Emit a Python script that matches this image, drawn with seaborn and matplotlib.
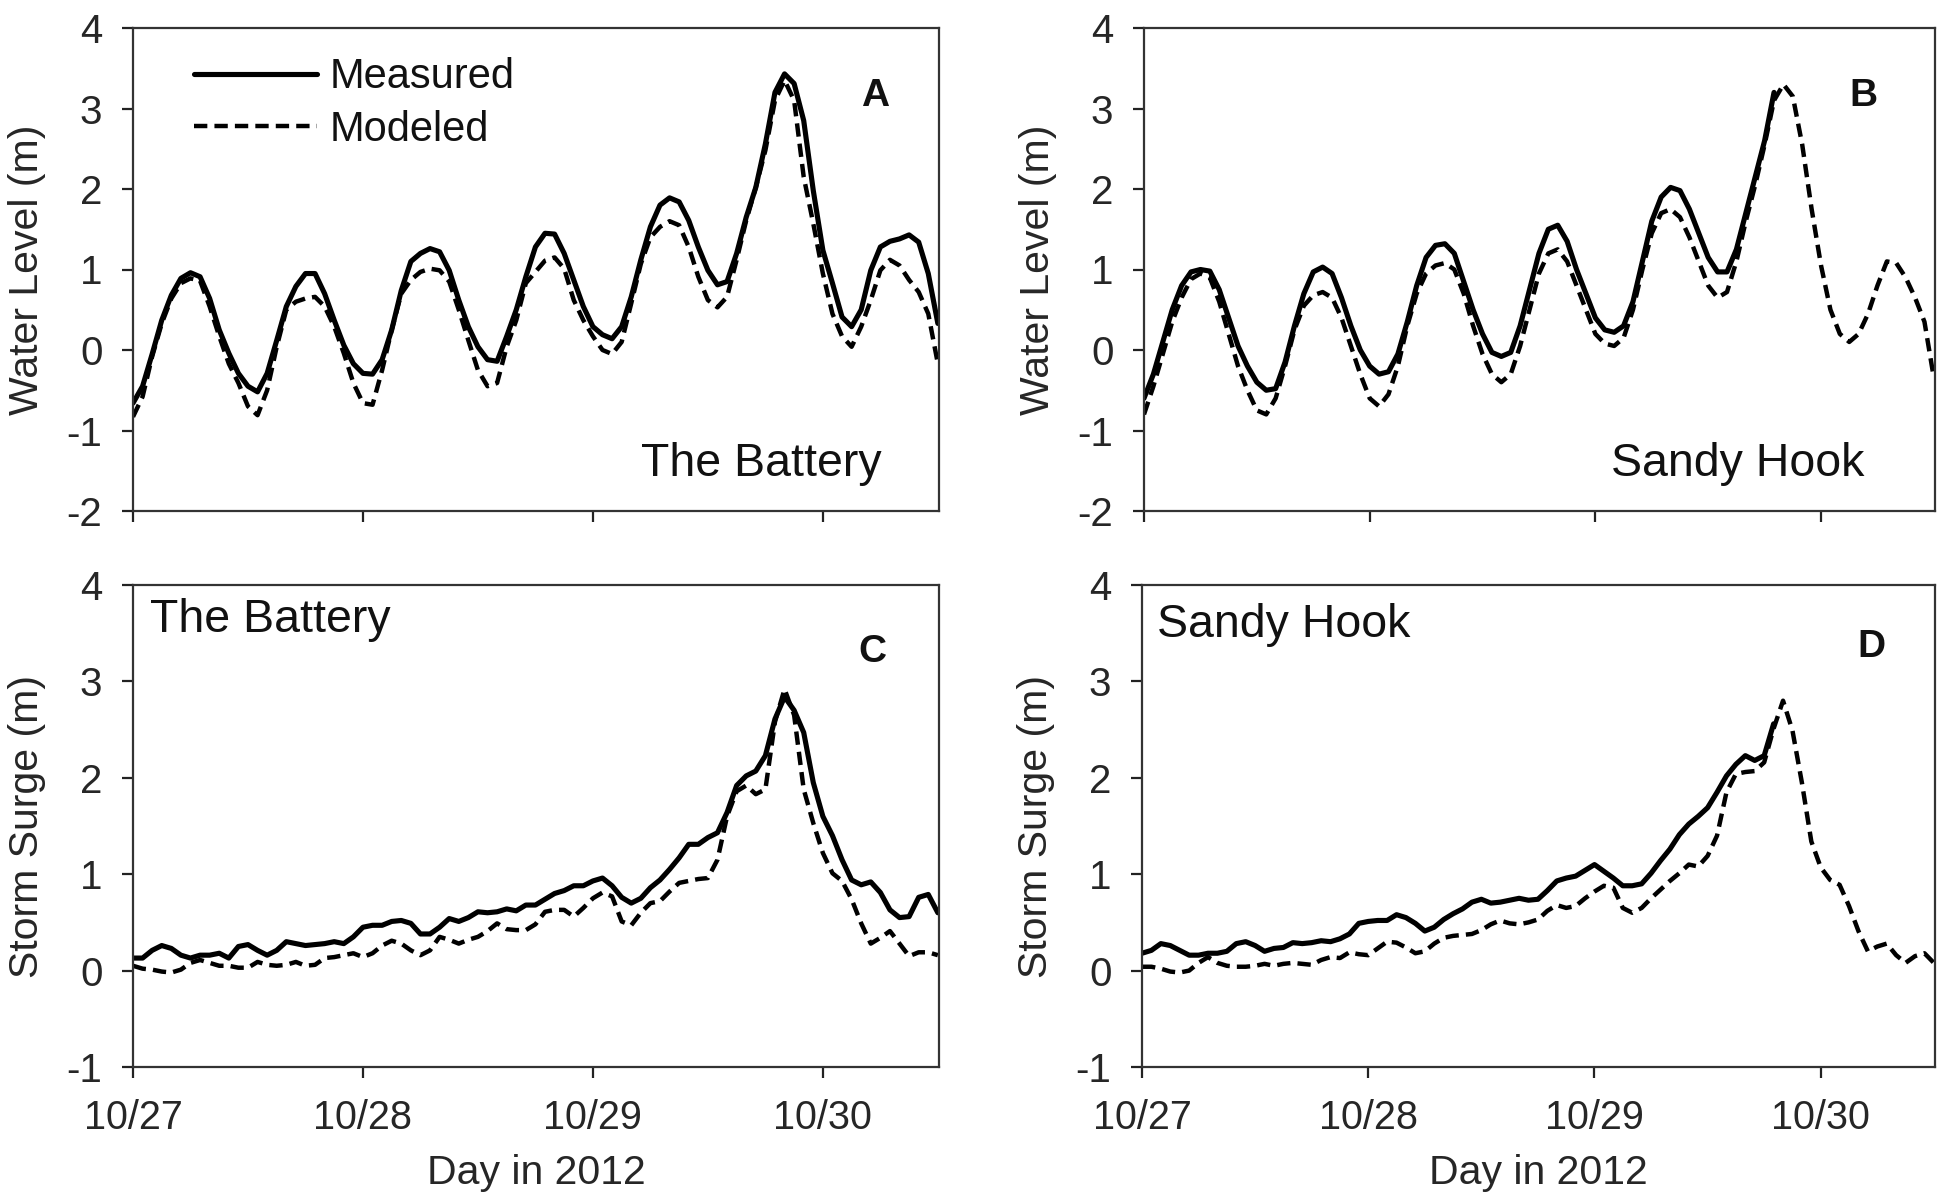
import numpy as np
import pandas as pd
import seaborn as sns
import matplotlib
matplotlib.use("Agg")
import matplotlib.pyplot as plt
from matplotlib.lines import Line2D

# hourly values, starting at 10/27 00:00
battery_level_meas = [-.66,-.45,-.05,.37,.68,.89,.96,.91,.64,.25,-.04,-.29,-.45,-.52,-.29,.12,.54,.79,.95,.95,.70,
    .37,.06,-.17,-.29,-.30,-.12,.25,.74,1.10,1.20,1.26,1.22,.99,.62,.29,.04,-.12,-.14,.17,.50,.91,1.28,
    1.45,1.44,1.20,.87,.54,.29,.19,.14,.29,.66,1.12,1.53,1.80,1.89,1.84,1.61,1.28,.99,.81,.85,1.20,1.65,
    2.02,2.56,3.20,3.43,3.31,2.85,1.98,1.24,.83,.41,.29,.50,.99,1.28,1.35,1.38,1.43,1.34,.95,.33]
battery_level_mod = [-.83,-.58,-.08,.33,.64,.83,.89,.86,.54,.17,-.17,-.41,-.70,-.81,-.50,.04,.50,.60,.64,.66,.54,
    .29,-.04,-.41,-.66,-.68,-.25,.25,.70,.87,.97,1.01,.99,.85,.50,.12,-.25,-.45,-.41,.04,.37,.83,.97,
    1.11,1.15,1.01,.62,.37,.17,0,-.05,.10,.58,1.07,1.40,1.53,1.60,1.55,1.28,.91,.62,.53,.66,1.12,1.61,
    2.02,2.48,3.10,3.35,3.10,2.15,1.57,.95,.45,.17,.04,.29,.62,.99,1.12,1.05,.87,.72,.45,-.17]
hook_level_meas = [-.6,-.3,.1,.5,.8,.97,1.0,.98,.75,.4,.05,-.2,-.4,-.5,-.48,-.15,.3,.7,.97,1.03,.95,.65,.3,0,-.2,
    -.3,-.27,-.05,.35,.8,1.15,1.3,1.32,1.2,.85,.5,.2,-.03,-.08,-.03,.3,.75,1.2,1.5,1.55,1.35,1.0,.7,.4,.25,
    .22,.3,.6,1.1,1.6,1.9,2.02,1.98,1.75,1.45,1.15,.97,.97,1.25,1.7,2.15,2.6,3.2]
hook_level_mod = [-.8,-.45,-.05,.35,.65,.88,.95,.9,.6,.2,-.2,-.5,-.75,-.8,-.6,-.2,.25,.55,.68,.72,.65,.4,.05,-.3,-.6,
    -.7,-.55,-.2,.3,.7,.95,1.05,1.08,1.0,.7,.3,-.05,-.3,-.4,-.3,.05,.5,.95,1.2,1.25,1.1,.8,.5,.2,.08,
    .05,.15,.5,1.0,1.45,1.7,1.75,1.65,1.4,1.1,.8,.65,.72,1.1,1.6,2.05,2.55,3.1,3.3,3.15,2.55,1.75,1.05,.5,.2,
    .1,.2,.45,.8,1.1,1.08,.9,.65,.35,-.35]
battery_surge_meas = [.13,.13,.21,.26,.23,.16,.13,.16,.16,.18,.13,.25,.27,.21,.16,.21,.30,.28,.26,.27,.28,.30,.28,.35,
    .45,.47,.47,.51,.52,.49,.38,.38,.45,.54,.51,.55,.61,.60,.61,.64,.62,.68,.68,.74,.80,.83,.88,.88,.93,.96,
    .88,.76,.70,.75,.86,.94,1.05,1.17,1.31,1.31,1.38,1.43,1.64,1.92,2.02,2.07,2.23,2.61,2.84,2.70,2.47,1.95,
    1.60,1.40,1.15,.94,.89,.92,.81,.63,.55,.56,.76,.79,.60]
battery_surge_mod = [.05,.02,.01,-.01,-.02,.01,.08,.11,.08,.05,.05,.03,.03,.09,.06,.05,.06,.09,.05,.06,.13,.14,.16,.18,
    .14,.18,.26,.31,.28,.21,.16,.21,.35,.32,.28,.32,.35,.41,.49,.43,.42,.42,.48,.61,.63,.63,.56,.65,.75,.81,
    .77,.51,.47,.60,.70,.72,.82,.91,.93,.95,.96,1.15,1.60,1.86,1.92,1.83,1.88,2.58,2.92,2.65,1.88,1.53,
    1.22,1.01,.93,.74,.49,.28,.34,.41,.28,.15,.19,.19,.16]
hook_surge_meas = [.18,.21,.28,.26,.21,.16,.16,.18,.18,.20,.28,.30,.26,.20,.23,.24,.29,.28,.29,.31,.30,.33,.38,.49,
    .51,.52,.52,.58,.55,.49,.41,.45,.53,.59,.64,.71,.74,.70,.71,.73,.75,.73,.74,.83,.93,.96,.98,1.04,1.10,
    1.03,.96,.88,.88,.90,1.01,1.14,1.26,1.41,1.52,1.60,1.69,1.85,2.02,2.14,2.23,2.18,2.23,2.56]
hook_surge_mod = [.04,.04,.02,-.01,-.02,0,.08,.14,.08,.05,.04,.04,.05,.07,.05,.07,.08,.07,.06,.11,.14,.13,.19,.17,
    .16,.23,.30,.29,.24,.18,.20,.28,.34,.36,.37,.38,.42,.48,.52,.49,.48,.50,.53,.62,.68,.65,.67,.75,.82,.88,
    .86,.65,.60,.65,.75,.84,.93,1.01,1.10,1.08,1.19,1.40,1.85,2.04,2.06,2.07,2.16,2.51,2.80,2.49,1.95,1.34,
    1.07,.94,.89,.67,.41,.20,.25,.28,.16,.08,.15,.18,.08]

day_ticks = [0, 1, 2, 3]
day_labels = ["10/27", "10/28", "10/29", "10/30"]
level_ticks = [-2, -1, 0, 1, 2, 3, 4]
surge_ticks = [-1, 0, 1, 2, 3, 4]

W, H = 1950, 1199
sns.set_style("ticks")
plt.rcParams["font.family"] = ["Liberation Sans", "DejaVu Sans"]
plt.rcParams["text.color"] = "#111111"
plt.rcParams["axes.unicode_minus"] = False

fig = plt.figure(figsize=(W / 100, H / 100), dpi=100)


def add_panel(left, right, top, bottom):
    return fig.add_axes([left / W, 1 - bottom / H, (right - left) / W, (bottom - top) / H])


def draw(ax, meas, mod, yticks, ylabel, show_x):
    df_meas = pd.DataFrame({"day": np.arange(len(meas)) / 24, "value": meas})
    df_mod = pd.DataFrame({"day": np.arange(len(mod)) / 24, "value": mod})
    sns.lineplot(data=df_meas, x="day", y="value", ax=ax, color="black", linewidth=3.7, errorbar=None,
                 solid_joinstyle="round")
    sns.lineplot(data=df_mod, x="day", y="value", ax=ax, color="black", linewidth=3.2,
                 linestyle=(0, (3.0, 1.6)), errorbar=None, dash_joinstyle="round")
    ax.set_xlim(0, 3.505)
    ax.set_ylim(yticks[0], yticks[-1])
    ax.set_xticks(day_ticks)
    ax.set_yticks(yticks)
    ax.set_xticklabels(day_labels if show_x else [])
    ax.set_ylabel(ylabel, fontsize=29.5, labelpad=15)
    ax.set_xlabel("Day in 2012" if show_x else "", fontsize=29.5, labelpad=12)
    ax.tick_params(axis="y", width=1.6, length=8, color="#222222", labelsize=29, pad=14)
    ax.tick_params(axis="x", width=1.6, length=8, color="#222222", labelsize=28.5, pad=15)
    for s in ax.spines.values():
        s.set_visible(True)
        s.set_linewidth(1.6)
        s.set_color("#333333")


ax_a = add_panel(133, 939, 28, 511)
ax_b = add_panel(1144, 1935, 28, 511)
ax_c = add_panel(133, 939, 585, 1067)
ax_d = add_panel(1142, 1935, 585, 1067)

draw(ax_a, battery_level_meas, battery_level_mod, level_ticks, "Water Level (m)", False)
draw(ax_b, hook_level_meas, hook_level_mod, level_ticks, "Water Level (m)", False)
draw(ax_c, battery_surge_meas, battery_surge_mod, surge_ticks, "Storm Surge (m)", True)
draw(ax_d, hook_surge_meas, hook_surge_mod, surge_ticks, "Storm Surge (m)", True)

# panel letters
ax_a.text(3.227, 3.16, "A", fontsize=28, fontweight="bold", ha="center", va="center")
ax_b.text(3.19, 3.16, "B", fontsize=28, fontweight="bold", ha="center", va="center")
ax_c.text(3.216, 3.3, "C", fontsize=28, fontweight="bold", ha="center", va="center")
ax_d.text(3.226, 3.36, "D", fontsize=28, fontweight="bold", ha="center", va="center")

# station names
ax_a.text(2.21, -1.41, "The Battery", fontsize=33.5, va="center")
ax_b.text(2.07, -1.41, "Sandy Hook", fontsize=33.5, va="center")
ax_c.text(0.076, 3.64, "The Battery", fontsize=33.5, va="center")
ax_d.text(0.066, 3.58, "Sandy Hook", fontsize=33.5, va="center")

handles = [
    Line2D([], [], color="black", linewidth=3.7, label="Measured"),
    Line2D([], [], color="black", linewidth=3.2, linestyle=(0, (3.0, 1.6)), label="Modeled"),
]
ax_a.legend(handles=handles, loc="upper left", bbox_to_anchor=(0.04, 1.0), frameon=False,
            fontsize=30, handlelength=2.95, handletextpad=0.3, labelspacing=0.3, borderpad=0.2)

fig.savefig("out.png", dpi=100, facecolor="white")
